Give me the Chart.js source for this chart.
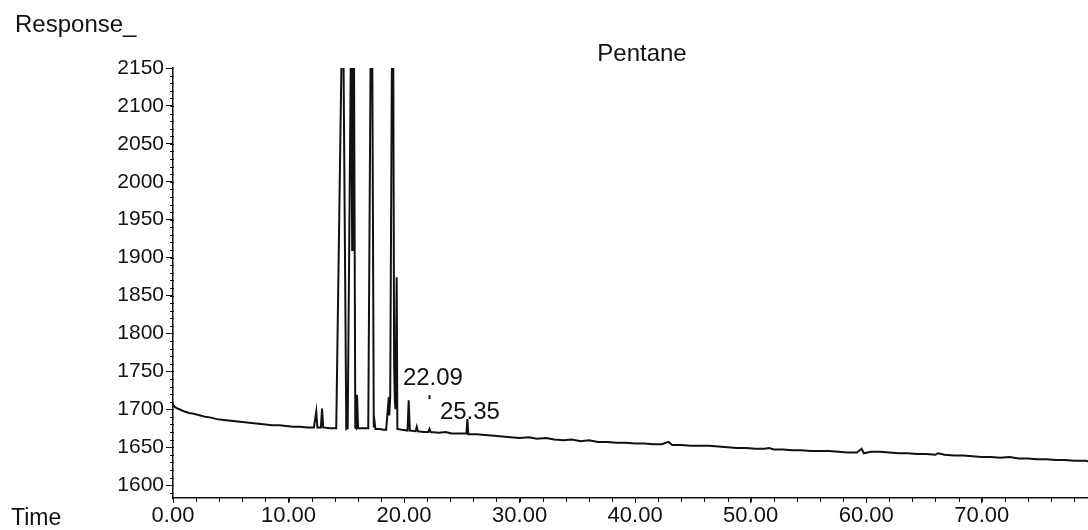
<!DOCTYPE html>
<html>
<head>
<meta charset="utf-8">
<script src="https://cdn.jsdelivr.net/npm/chart.js@4.4.0/dist/chart.umd.min.js"></script>
<style>
  html, body { margin: 0; padding: 0; background: #ffffff; }
  #wrap { position: relative; width: 1088px; height: 530px; }
</style>
</head>
<body>
<div id="wrap"><canvas id="c"></canvas></div>
<script>
// ---- data ----
const times = [
  0.00, 0.15, 0.4, 0.7, 1.0, 1.4, 1.8, 2.3, 2.8, 3.3, 3.8, 4.4, 5.0, 5.6, 6.2, 6.8, 7.4, 8.0, 8.6, 9.2,
  9.8, 10.4, 11.0, 11.6, 12.2, 12.4, 12.5, 12.8, 12.9, 13.0, 13.6, 14.13, 14.62, 14.74, 15.0, 15.12,
  15.41, 15.47, 15.51, 15.56, 15.66, 15.78, 15.85, 15.93, 16.02, 16.5, 16.9, 17.12, 17.24, 17.38,
  17.45, 17.52, 17.9, 18.2, 18.45, 18.68, 18.72, 18.8, 18.96, 19.06, 19.14, 19.2, 19.26, 19.36,
  19.42, 19.8, 20.3, 20.4, 20.5, 21.0, 21.1, 21.2, 21.7, 22.1, 22.2, 22.3, 23.0, 23.6, 24.1, 24.8,
  25.4, 25.48, 25.56, 26.3, 27.0, 27.8, 28.5, 29.2, 30.0, 30.8, 31.5, 32.3, 33.0, 33.8, 34.5, 35.3,
  36.0, 36.8, 37.6, 38.4, 39.2, 40.0, 40.8, 41.6, 42.3, 42.9, 43.2, 44.0, 44.8, 45.6, 46.4, 47.2,
  48.0, 48.8, 49.6, 50.4, 51.2, 51.6, 52.0, 52.8, 53.6, 54.4, 55.2, 56.0, 56.8, 57.6, 58.4, 59.2,
  59.6, 59.8, 60.4, 61.2, 62.0, 62.8, 63.6, 64.4, 65.2, 66.0, 66.2, 66.8, 67.6, 68.4, 69.2, 70.0,
  70.8, 71.6, 72.4, 73.2, 74.0, 74.8, 75.6, 76.4, 77.2, 78.0, 79.0, 79.5
];
const responses = [
  1707, 1703, 1701, 1699, 1697, 1695, 1694, 1692, 1690, 1689, 1687, 1686, 1685, 1684, 1683, 1682, 1681, 1680, 1679, 1679,
  1678, 1677, 1677, 1676, 1676, 1697, 1676, 1676, 1701, 1676, 1675, 1675, 2200, 2200, 1674, 1675,
  2200, 2200, 1910, 2200, 2200, 1676, 1675, 1719, 1675, 1675, 1675, 2200, 2200, 1676,
  1683, 1674, 1674, 1673, 1673, 1716, 1692, 1716, 2200, 2200, 1760, 1712, 1700, 1874,
  1674, 1673, 1672, 1712, 1672, 1671, 1677, 1671, 1670, 1670, 1674, 1670, 1669, 1670, 1668, 1668,
  1668, 1687, 1667, 1667, 1666, 1665, 1664, 1663, 1662, 1663, 1661, 1662, 1660, 1659, 1660, 1658,
  1659, 1657, 1657, 1656, 1656, 1655, 1655, 1654, 1654, 1657, 1653, 1653, 1652, 1652, 1652, 1651,
  1650, 1649, 1649, 1648, 1648, 1649, 1647, 1647, 1646, 1646, 1645, 1645, 1645, 1644, 1643, 1643,
  1648, 1642, 1644, 1644, 1643, 1642, 1642, 1641, 1641, 1640, 1642, 1640, 1639, 1639, 1638, 1637,
  1637, 1636, 1637, 1635, 1635, 1634, 1634, 1633, 1633, 1632, 1632, 1631
];
const peakLabels = ["22.09", "25.35"];
const peakLabelTimes = [19.9, 23.1];
const peakLabelResponses = [1741, 1696];
const peakMarkTimes = [22.2];
const peakMarkResponses = [1716];
const xTickValues = [0, 10, 20, 30, 40, 50, 60, 70];
const yTickValues = [1600, 1650, 1700, 1750, 1800, 1850, 1900, 1950, 2000, 2050, 2100, 2150];
const xMinorStep = 2;
const yMinorStep = 10;
const chartTitle = "Pentane";
const yAxisTitle = "Response_";
const xAxisTitle = "Time";

const FONT = '"Liberation Sans", Arial, sans-serif';
const INK = '#111111';

const trace = times.map((t, i) => ({ x: t, y: responses[i] }));
const marks = peakMarkTimes.map((t, i) => ({ x: t, y: peakMarkResponses[i] }));

const decorPlugin = {
  id: 'decor',
  afterDraw(chart) {
    const ctx = chart.ctx;
    const xs = chart.scales.x, ys = chart.scales.y;
    ctx.save();
    ctx.strokeStyle = INK;
    ctx.lineWidth = 1;
    // minor ticks, y axis
    for (let v = Math.ceil(ys.min / yMinorStep) * yMinorStep; v <= ys.max; v += yMinorStep) {
      const py = Math.round(ys.getPixelForValue(v)) + 0.5;
      ctx.beginPath(); ctx.moveTo(xs.left - 3, py); ctx.lineTo(xs.left + 1, py); ctx.stroke();
    }
    // minor ticks, x axis
    for (let v = 0; v <= xs.max; v += xMinorStep) {
      const px = Math.round(xs.getPixelForValue(v)) + 0.5;
      ctx.beginPath(); ctx.moveTo(px, ys.bottom); ctx.lineTo(px, ys.bottom + 4); ctx.stroke();
    }
    // texts
    ctx.fillStyle = INK;
    ctx.textBaseline = 'alphabetic';
    ctx.textAlign = 'left';
    ctx.font = '24px ' + FONT;
    ctx.fillText(yAxisTitle, 15, 32);
    ctx.textAlign = 'center';
    ctx.fillText(chartTitle, 642, 61);
    ctx.textAlign = 'left';
    ctx.font = '23px ' + FONT;
    ctx.fillText(xAxisTitle, 11, 525);
    ctx.font = '24px ' + FONT;
    ctx.textBaseline = 'middle';
    peakLabels.forEach((s, i) => {
      ctx.fillText(s, xs.getPixelForValue(peakLabelTimes[i]), ys.getPixelForValue(peakLabelResponses[i]));
    });
    ctx.restore();
  }
};

new Chart(document.getElementById('c'), {
  type: 'line',
  data: {
    datasets: [
      {
        data: trace,
        borderColor: INK,
        borderWidth: 2,
        pointRadius: 0,
        pointHoverRadius: 0,
        tension: 0,
        fill: false
      },
      {
        type: 'scatter',
        data: marks,
        pointStyle: 'line',
        rotation: 90,
        pointRadius: 2,
        pointHoverRadius: 2,
        borderColor: INK,
        borderWidth: 2,
        showLine: false
      }
    ]
  },
  options: {
    responsive: true,
    maintainAspectRatio: false,
    animation: false,
    parsing: false,
    events: [],
    layout: { autoPadding: false, padding: { top: 68, right: 0, left: 0, bottom: 0 } },
    plugins: { legend: { display: false }, tooltip: { enabled: false }, title: { display: false } },
    scales: {
      x: {
        type: 'linear',
        min: 0,
        max: 79.2,
        offset: false,
        afterBuildTicks(scale) { scale.ticks = xTickValues.map(v => ({ value: v })); },
        afterFit(scale) { scale.height = 32; scale.paddingRight = 0; scale.paddingLeft = 0; },
        grid: { drawOnChartArea: false, drawTicks: true, tickLength: 5, tickColor: INK },
        border: { display: true, color: INK, width: 1.5 },
        ticks: {
          autoSkip: false,
          maxRotation: 0,
          padding: 0,
          color: INK,
          font: { family: FONT, size: 22 },
          callback: v => Number(v).toFixed(2)
        }
      },
      y: {
        type: 'linear',
        min: 1583,
        max: 2150,
        afterBuildTicks(scale) { scale.ticks = yTickValues.map(v => ({ value: v })); },
        afterFit(scale) { scale.width = 173; scale.paddingTop = 0; scale.paddingBottom = 0; },
        grid: { drawOnChartArea: false, drawTicks: true, tickLength: 7, tickColor: INK },
        border: { display: true, color: INK, width: 1.5 },
        ticks: {
          autoSkip: false,
          padding: 2,
          color: INK,
          font: { family: FONT, size: 21 },
          callback: v => String(v)
        }
      }
    }
  },
  plugins: [decorPlugin]
});
</script>
</body>
</html>
